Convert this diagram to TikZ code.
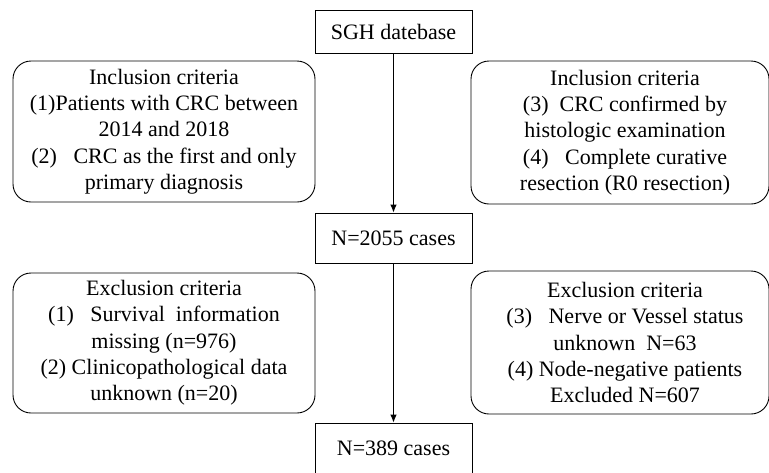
\documentclass[tikz,border=0pt]{standalone}
\usepackage{fontspec}
\setmainfont{Liberation Serif}
\usetikzlibrary{arrows.meta}
\begin{document}
\begin{tikzpicture}[x=1pt,y=-1pt,
  every node/.style={font=\fontsize{22}{26.3}\selectfont},
  every label/.style={font=\fontsize{22}{26.3}\selectfont, align=center, inner sep=0pt},
  sqbox/.style={draw, line width=0.9pt, inner sep=0pt, align=center},
  rbox/.style={draw, line width=0.9pt, rounded corners=18pt, inner sep=0pt, align=center},
  arr/.style={line width=0.9pt, -{Latex[length=8pt,width=6.5pt]}}]
\useasboundingbox (0,0) rectangle (769,472);
\clip (0,0) rectangle (769,472);
\node[sqbox, minimum width=157pt, minimum height=43pt] (sgh) at (393.5,31.5) {SGH datebase};
\node[sqbox, minimum width=157pt, minimum height=50pt] (n1) at (393.5,238) {N=2055 cases};
\node[sqbox, minimum width=157pt, minimum height=50pt] (n2) at (393.5,448) {N=389 cases};
\node[rbox, minimum width=302pt, minimum height=141pt] (inl) at (164,131.5)
  {Inclusion criteria\\(1)Patients with CRC between\\2014 and 2018\\(2)\ \ \ CRC as the first and only\\primary diagnosis};
\node[rbox, minimum width=298pt, minimum height=143pt,
  label={[xshift=5pt]center:{Inclusion criteria\\(3)\ \ CRC confirmed by\\histologic examination\\(4)\ \ \ Complete curative\\resection (R0 resection)}}] (inr) at (620,132.5) {};
\node[rbox, minimum width=302pt, minimum height=140pt] (exl) at (164,343)
  {Exclusion criteria\\(1)\ \ \ Survival\ \ information\\missing (n=976)\\(2) Clinicopathological data\\unknown (n=20)};
\node[rbox, minimum width=298pt, minimum height=143pt,
  label={[xshift=5pt]center:{Exclusion criteria\\(3)\ \ \ Nerve or Vessel status\\unknown\ \ N=63\\(4) Node-negative patients\\Excluded N=607}}] (exr) at (620,342.5) {};
\draw[arr] (sgh.south) -- (n1.north);
\draw[arr] (n1.south) -- (n2.north);
\end{tikzpicture}
\end{document}
